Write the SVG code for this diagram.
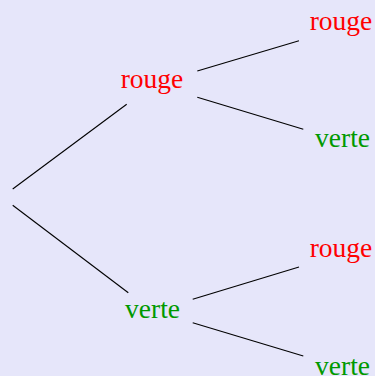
<svg xmlns="http://www.w3.org/2000/svg" width="375" height="376" viewBox="0 0 375 376">
<style>
text{font-family:"Liberation Serif","Times New Roman",serif;font-size:27.5px;text-anchor:middle}
.r{fill:#ff0000}
.g{fill:#009900}
.edges line{stroke:#000;stroke-width:1.1}
</style>
<rect width="375" height="376" fill="#e6e6fa"/>
<g id="connectors" class="edges">
<line x1="12.7" y1="189" x2="126.7" y2="104.3"/>
<line x1="12.7" y1="205.3" x2="128.3" y2="292.7"/>
<line x1="197.3" y1="71" x2="299" y2="40.7"/>
<line x1="197.3" y1="97.3" x2="303.3" y2="129.3"/>
<line x1="192.7" y1="299.3" x2="299" y2="267"/>
<line x1="192.7" y1="322.7" x2="303.3" y2="356"/>
</g>
<g id="n1"><text class="r" x="152" y="87.5">rouge</text></g>
<g id="n2"><text class="g" x="152.5" y="318.3">verte</text></g>
<g id="n3"><text class="r" x="341" y="30">rouge</text></g>
<g id="n4"><text class="g" x="342.5" y="147.3">verte</text></g>
<g id="n5"><text class="r" x="341" y="257">rouge</text></g>
<g id="n6"><text class="g" x="342.5" y="374.5">verte</text></g>
</svg>
